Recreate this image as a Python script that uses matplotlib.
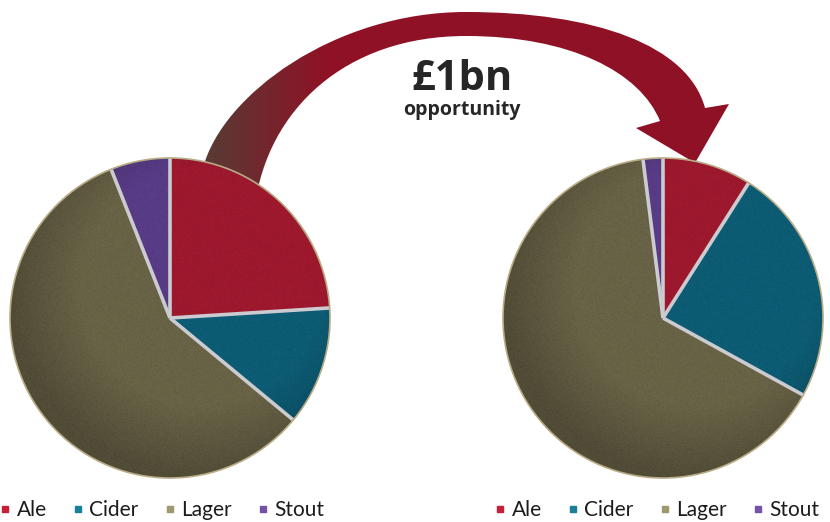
import numpy as np
import matplotlib.pyplot as plt
from matplotlib.path import Path
from matplotlib.patches import PathPatch, Circle
from matplotlib.lines import Line2D

# market share by drink, before and after
labels = ['Ale', 'Cider', 'Lager', 'Stout']
share_now = [24, 12, 58, 6]
share_target = [9, 24, 65, 2]

pie_colors = ['#a3192f', '#0d5f78', '#6c6649', '#5b3e8b']
key_colors = ['#c81f3a', '#1a7f98', '#9e9770', '#7552a8']

W, H = 830, 522
fig = plt.figure(figsize=(W / 100, H / 100), dpi=100)
ax = fig.add_axes([0, 0, 1, 1])
rng = np.random.default_rng(7)


def py(y):
    # pixel rows counted from the top
    return H - y


def draw_pie(values, cx, cy, r):
    wedges, _ = ax.pie(values, colors=pie_colors, startangle=90, counterclock=False,
                       center=(cx, py(cy)), radius=r, frame=True,
                       wedgeprops=dict(linewidth=0))
    for w in wedges:
        w.set_zorder(3)
    # paper grain plus a darker rim at the lower left
    n = 320
    yy, xx = np.mgrid[-1:1:n * 1j, -1:1:n * 1j]
    d = np.sqrt((xx - 0.2) ** 2 + (yy - 0.2) ** 2)
    shade = np.zeros((n, n, 4))
    shade[..., 3] = np.clip((d - 0.75) * 0.5, 0, 0.22) + rng.uniform(0, 0.08, (n, n))
    im = ax.imshow(shade, extent=(cx - r, cx + r, py(cy) - r, py(cy) + r),
                   origin='lower', zorder=4, interpolation='bilinear')
    clip = Circle((cx, py(cy)), r, transform=ax.transData)
    im.set_clip_path(clip)
    # separators between slices
    ang = 90 - 360 * np.cumsum([0] + list(values[:-1])) / sum(values)
    for a in np.radians(ang):
        ax.plot([cx, cx + r * np.cos(a)], [py(cy), py(cy) + r * np.sin(a)],
                color='#cbcbd0', lw=2.6, solid_capstyle='butt', zorder=5)
    ax.add_patch(Circle((cx, py(cy)), r, fill=False, ec='#b8ab86', lw=1.2, zorder=5))


draw_pie(share_now, 170, 318, 160)
draw_pie(share_target, 663, 318, 160)

# curved arrow from left pie to right pie
pts = [(206, 200), (203, 168),
       (222, 95), (335, 12), (466, 12),
       (595, 12), (688, 45), (705, 108),
       (729, 104), (695, 163), (636, 128),
       (660, 121),
       (640, 72), (570, 36), (466, 36),
       (345, 36), (268, 110), (255, 205),
       (206, 200)]
codes = [Path.MOVETO, Path.LINETO,
         Path.CURVE4, Path.CURVE4, Path.CURVE4,
         Path.CURVE4, Path.CURVE4, Path.CURVE4,
         Path.LINETO, Path.LINETO, Path.LINETO,
         Path.LINETO,
         Path.CURVE4, Path.CURVE4, Path.CURVE4,
         Path.CURVE4, Path.CURVE4, Path.CURVE4,
         Path.CLOSEPOLY]
arrow = Path([(x, py(y)) for x, y in pts], codes)
patch = PathPatch(arrow, fc='none', ec='none', zorder=2)
ax.add_patch(patch)

gx = np.linspace(0, W, 400)
t = np.clip((gx - 215) / 110, 0, 1)
brown = np.array([0.36, 0.22, 0.20])
red = np.array([0.56, 0.07, 0.15])
grad = (brown[None, :] * (1 - t[:, None]) + red[None, :] * t[:, None])
grad = np.tile(grad[None, :, :], (10, 1, 1))
gim = ax.imshow(grad, extent=(0, W, 0, H), origin='lower', zorder=2, aspect='auto')
gim.set_clip_path(patch)

ax.text(462, py(79), '£1bn', ha='center', va='center', fontsize=30,
        fontweight='bold', family='Open Sans', color='#262626')
ax.text(462, py(110), 'opportunity', ha='center', va='center', fontsize=14,
        fontweight='bold', family='Open Sans', color='#262626')

# keys under each pie
handles = [Line2D([], [], marker='s', ls='none', ms=5, color=c, mec=c) for c in key_colors]
key_font = dict(family='Lato', size=15)
for i, x0 in enumerate((2, 497)):
    leg = ax.legend(handles, labels, loc='center left', bbox_to_anchor=(x0, py(510)),
                    bbox_transform=ax.transData, ncol=4, frameon=False,
                    prop=key_font, handlelength=0.3, borderaxespad=0,
                    handletextpad=0.4, columnspacing=1.35, borderpad=0,
                    labelcolor='#1c1c1c')
    if i == 0:
        ax.add_artist(leg)

ax.set_xlim(0, W)
ax.set_ylim(0, H)
ax.set_aspect('equal')
ax.axis('off')
fig.savefig('out.png', dpi=100, facecolor='white')
